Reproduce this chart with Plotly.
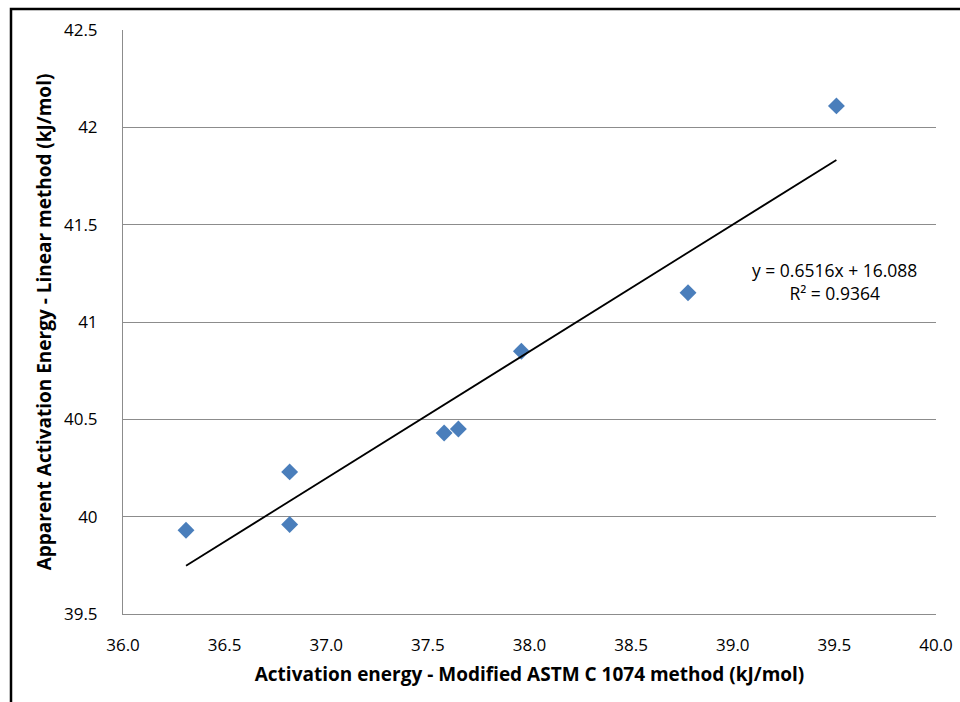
import plotly.graph_objects as go
import numpy as np

x_vals = [36.31, 36.82, 36.82, 37.58, 37.65, 37.96, 38.78, 39.51]
y_vals = [39.93, 40.23, 39.96, 40.43, 40.45, 40.85, 41.15, 42.11]
slope = 0.6516
intercept = 16.088
r2 = 0.9364
x_ticks = [36.0, 36.5, 37.0, 37.5, 38.0, 38.5, 39.0, 39.5, 40.0]
y_ticks = [39.5, 40, 40.5, 41, 41.5, 42, 42.5]

W, H = 960, 702
L, R, T, B = 123, 24, 30, 88
pw, ph = W - L - R, H - T - B

fig = go.Figure()
fig.add_trace(go.Scatter(
    x=x_vals, y=y_vals, mode="markers",
    marker=dict(symbol="diamond", size=13, color="#4A7EBB", line=dict(width=0)),
    showlegend=False))

xl = np.array([min(x_vals), max(x_vals)])
fig.add_trace(go.Scatter(
    x=xl, y=slope * xl + intercept, mode="lines",
    line=dict(color="black", width=1.8), showlegend=False))

fig.add_annotation(x=39.50, y=41.21, xref="x", yref="y",
                   text=f"y = {slope}x + {intercept}<br>R² = {r2}",
                   showarrow=False, align="center",
                   font=dict(family="Open Sans", size=17.5, color="black"))

fig.add_shape(type="rect", xref="paper", yref="paper",
              x0=(11 - L) / pw, x1=1.2, y0=-0.4, y1=(H - B - 9) / ph,
              line=dict(color="black", width=2.5), layer="below")

fig.update_layout(
    width=W, height=H, margin=dict(l=L, r=R, t=T, b=B, autoexpand=False),
    paper_bgcolor="white", plot_bgcolor="white",
    font=dict(family="Open Sans", color="black"),
    xaxis=dict(range=[36.0, 40.0], tickvals=x_ticks, automargin=False,
               ticktext=[f"{v:.1f}" for v in x_ticks],
               showgrid=False, zeroline=False, showline=True,
               linecolor="#8C8C8C", linewidth=1, ticks="",
               ticklabelstandoff=16, tickfont=dict(size=17),
               title=dict(text="<b>Activation energy - Modified ASTM C 1074 method (kJ/mol)</b>",
                          font=dict(size=19), standoff=12)),
    yaxis=dict(range=[39.5, 42.5], tickvals=y_ticks, automargin=False,
               ticktext=[str(v) for v in y_ticks],
               showgrid=True, gridcolor="#8C8C8C", gridwidth=1,
               zeroline=False, showline=True, linecolor="#8C8C8C", linewidth=1,
               ticks="", ticklabelstandoff=21, tickfont=dict(size=17),
               title=dict(text="<b>Apparent Activation Energy - Linear method (kJ/mol)</b>",
                          font=dict(size=19), standoff=7)),
)
fig.write_html("out.html")
